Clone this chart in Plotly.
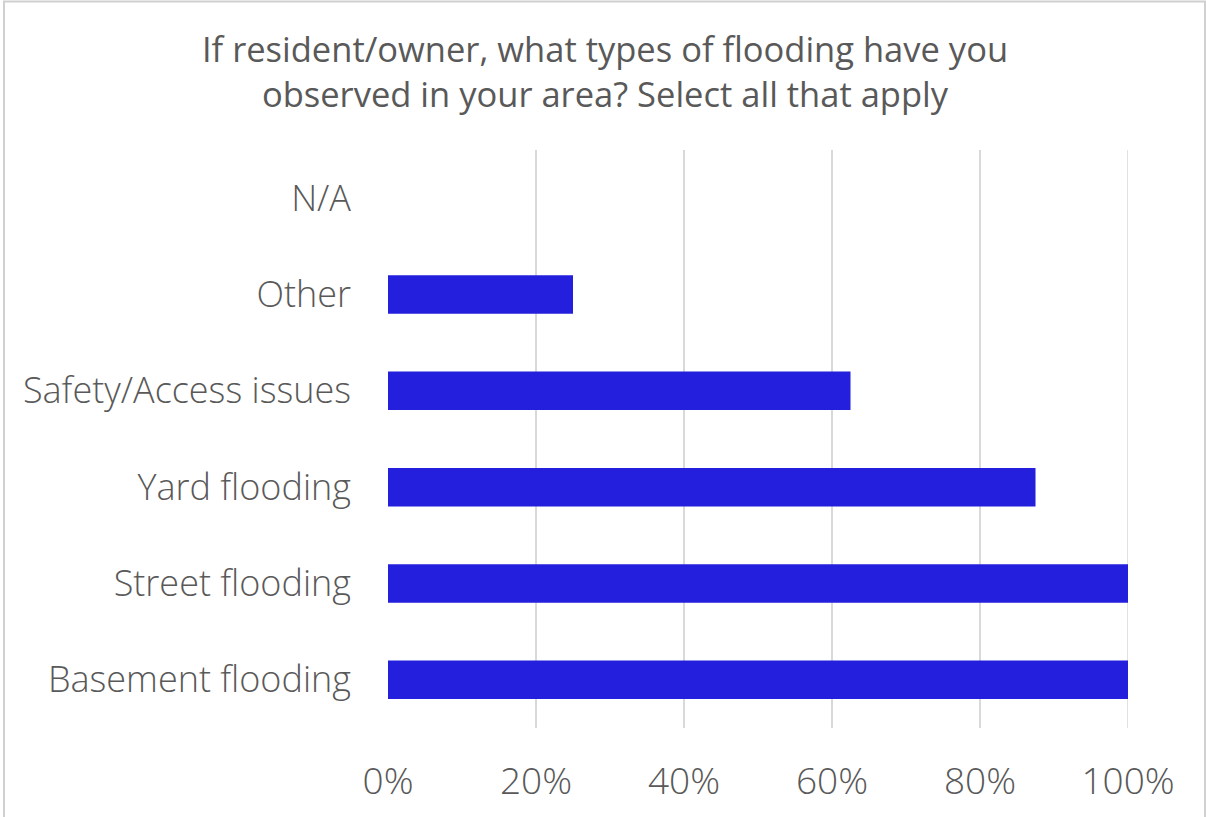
import plotly.graph_objects as go

# Survey responses (share of respondents)
categories = ["Basement flooding", "Street flooding", "Yard flooding",
              "Safety/Access issues", "Other", "N/A"]
shares = [1.00, 1.00, 0.875, 0.625, 0.25, 0.0]
tick_vals = [0, 0.2, 0.4, 0.6, 0.8, 1.0]
tick_text = ["0%", "20%", "40%", "60%", "80%", "100%"]

W, H = 1206, 817
L, R, T, B = 388, 78, 150, 89

fig = go.Figure(go.Bar(
    x=shares, y=categories, orientation="h",
    marker=dict(color="#231FDC", line=dict(width=0)),
    width=0.4,
))

font_family = "Open Sans"
grey = "#595959"
grid = "#D9D9D9"

fig.update_layout(
    width=W, height=H,
    margin=dict(l=L, r=R, t=T, b=B),
    paper_bgcolor="white", plot_bgcolor="white",
    showlegend=False,
    title=dict(
        text="If resident/owner, what types of flooding have you<br>observed in your area? Select all that apply",
        x=605 / W, xanchor="center", y=1 - 62 / H, yanchor="middle",
        font=dict(family=font_family, size=34.5, color=grey),
    ),
    xaxis=dict(
        range=[0, 1.0], tickvals=tick_vals, ticktext=tick_text,
        showgrid=True, gridcolor=grid, gridwidth=1.5,
        zeroline=False, showline=False,
        ticks="", ticklabelstandoff=28,
        tickfont=dict(family=font_family, size=37, color=grey, weight=300),
        fixedrange=True,
    ),
    yaxis=dict(
        categoryorder="array", categoryarray=categories,
        range=[-0.5, 5.5],
        showgrid=False, zeroline=False, showline=False,
        ticks="", ticklabelstandoff=36,
        tickfont=dict(family=font_family, size=36, color=grey, weight=300),
        fixedrange=True,
    ),
)

# Gridline at the last tick sits on the plot edge, so draw it explicitly
fig.add_shape(
    type="line", xref="x", yref="paper",
    x0=tick_vals[-1], x1=tick_vals[-1], y0=0, y1=1,
    line=dict(color=grid, width=1.5), layer="below",
)

# Light frame around the whole chart
pw, ph = W - L - R, H - T - B
fig.add_shape(
    type="rect", xref="paper", yref="paper",
    x0=(4 - L) / pw, x1=(1205 - L) / pw,
    y0=(H - B - 818) / ph, y1=(H - B - 1.5) / ph,
    line=dict(color="#D0D0D0", width=2), fillcolor="rgba(0,0,0,0)",
    layer="below",
)

fig.write_html("out.html")
